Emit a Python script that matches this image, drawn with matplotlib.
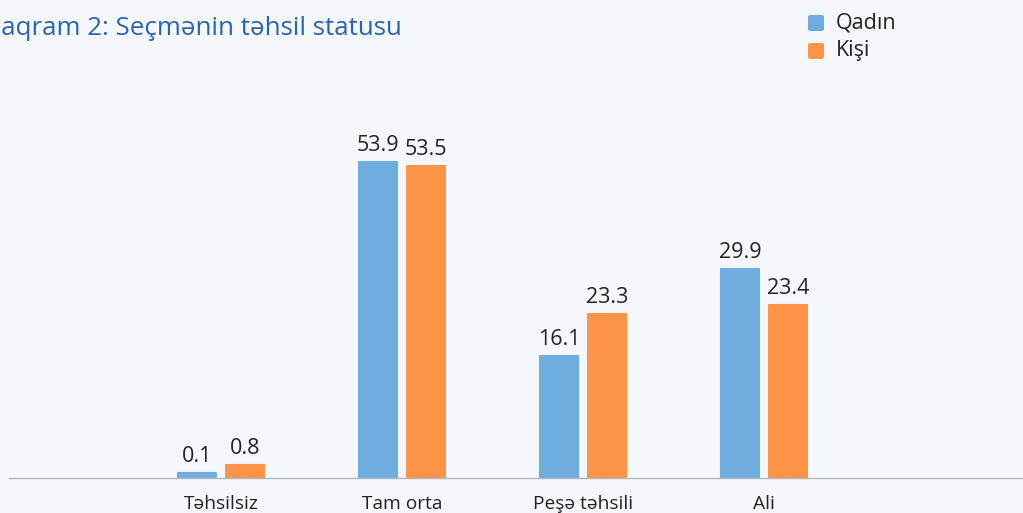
import matplotlib
matplotlib.use("Agg")
import matplotlib.pyplot as plt
import numpy as np

plt.rcParams['font.family'] = ['Open Sans', 'DejaVu Sans']

categories = ["Təhsilsiz", "Tam orta", "Peşə təhsili", "Ali"]
series_names = ["Qadın", "Kişi"]
# printed values
qadin = [0.1, 53.9, 16.1, 29.9]
kisi = [0.8, 53.5, 23.3, 23.4]
# bar lengths as drawn in the source chart (they do not follow the labels exactly)
qadin_bar = [0.85, 53.9, 20.8, 35.7]
kisi_bar = [2.2, 53.2, 28.0, 29.5]

bg = "#f4f8fd"
blue = "#6fadde"
orange = "#fd9447"

fig = plt.figure(figsize=(10.23, 5.13), dpi=100, facecolor=bg)
W, H = 1023, 513
base_y = 478
ax = fig.add_axes([9 / W, (H - base_y) / H, 1 - 9 / W, base_y / H])
ax.set_facecolor(bg)

x = np.arange(len(categories))
w = 0.215
off = 0.1326
b1 = ax.bar(x - off, qadin_bar, w, color=blue, edgecolor=blue, linewidth=1.5, joinstyle="round")
b2 = ax.bar(x + off, kisi_bar, w, color=orange, edgecolor=orange, linewidth=1.5, joinstyle="round")

for bars, vals in ((b1, qadin), (b2, kisi)):
    for rect, v in zip(bars, vals):
        ax.text(rect.get_x() + rect.get_width() / 2, rect.get_height() + 1.0, f"{v:.1f}",
                ha="center", va="bottom", fontsize=15.5, color="#222222")

ax.set_xlim((9 - 221) / 181, (1023 - 221) / 181)
ax.set_ylim(0, base_y / 5.86)
for s in ["top", "right", "left"]:
    ax.spines[s].set_visible(False)
ax.spines["bottom"].set_color("#b4b4bc")
ax.spines["bottom"].set_linewidth(1)
ax.set_yticks([])
ax.set_xticks(x)
ax.set_xticklabels(categories, fontsize=13.8, color="#222222")
ax.tick_params(axis="x", length=0, pad=12)

fig.text(-24 / W, 1 - 35 / H, "Diaqram 2: Seçmənin təhsil statusu",
         fontsize=18.6, color="#2a63b0", ha="left", va="baseline")

# legend
for i, (name, col) in enumerate(zip(series_names, [blue, orange])):
    yc = 23 + i * 28
    fig.patches.append(matplotlib.patches.FancyBboxPatch(
        (808 / W, 1 - (yc + 8) / H), 16 / W, 16 / H,
        boxstyle="round,pad=0,rounding_size=0.003", transform=fig.transFigure,
        facecolor=col, edgecolor="none"))
    fig.text(836 / W, 1 - yc / H, name, fontsize=15.5, color="#222222",
             ha="left", va="center")

fig.savefig("out.png", dpi=100, facecolor=bg)
